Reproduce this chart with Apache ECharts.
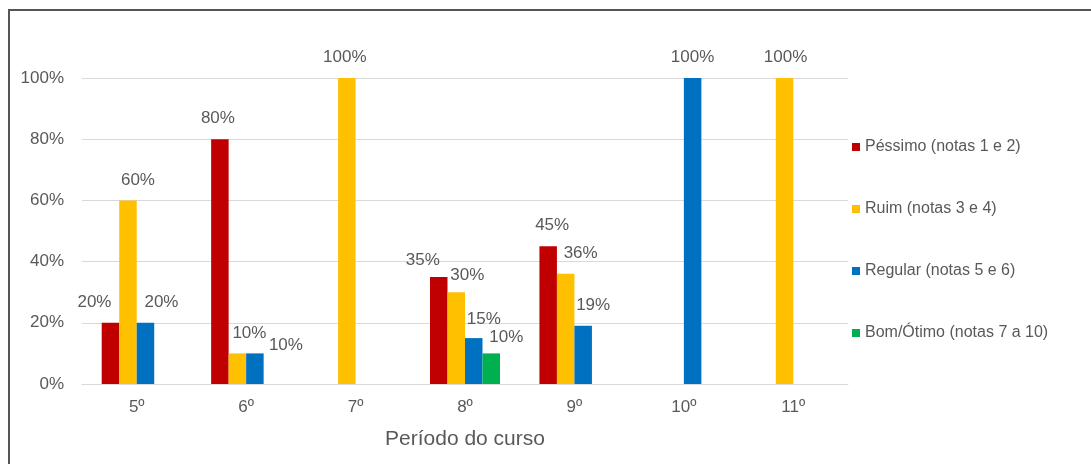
<!DOCTYPE html>
<html>
<head>
<meta charset="utf-8">
<script src="https://cdn.jsdelivr.net/npm/echarts@6/dist/echarts.min.js"></script>
<style>
html,body{margin:0;padding:0;background:#fff;}
#main{width:1091px;height:464px;}
</style>
</head>
<body>
<div id="main"></div>
<script>
// categorias (período do curso)
var periodos = ['5º', '6º', '7º', '8º', '9º', '10º', '11º'];
// percentuais por avaliação
var pessimo = [20, 80, 0, 35, 45, 0, 0];
var ruim = [60, 10, 100, 30, 36, 0, 100];
var regular = [20, 10, 0, 15, 19, 100, 0];
var bomOtimo = [0, 0, 0, 10, 0, 0, 0];
var yTicks = [0, 20, 40, 60, 80, 100];

// deslocamento dos rótulos como no original [dx, dy]
var offPessimo = [[-16, 0], [-2, 0], [0, 0], [-16, 4], [4, 0], [0, 0], [0, 0]];
var offRuim = [[10, 0], [12, 0], [-2, 0], [11, 4], [15, 0], [0, 0], [1, 0]];
var offRegular = [[16, 0], [31, 12], [0, 0], [10, 2], [10, 0], [0, 0], [0, 0]];
var offBom = [[0, 0], [0, 0], [0, 0], [15, 4], [0, 0], [0, 0], [0, 0]];

function montaDados(vals, offs) {
	var arr = [];
	for (var i = 0; i < vals.length; i++) {
		arr.push({ value: vals[i], label: { offset: offs[i] } });
	}
	return arr;
}

var rotulo = {
	show: true,
	position: 'top',
	distance: 12,
	color: '#595959',
	fontSize: 17,
	fontFamily: 'Liberation Sans, Arial, sans-serif',
	formatter: function (p) { return p.value > 0 ? p.value + '%' : ''; }
};

function serie(nome, cor, vals, offs) {
	return {
		name: nome,
		type: 'bar',
		barWidth: 17.5,
		barGap: '0%',
		itemStyle: { color: cor },
		label: rotulo,
		data: montaDados(vals, offs)
	};
}

var myChart = echarts.init(document.getElementById('main'));
var option = {
	backgroundColor: '#fff',
	animation: false,
	textStyle: { fontFamily: 'Liberation Sans, Arial, sans-serif' },
	graphic: [
		{ type: 'line', shape: { x1: 8, y1: 10, x2: 1091, y2: 10 }, style: { stroke: '#555', lineWidth: 2 } },
		{ type: 'line', shape: { x1: 9, y1: 9, x2: 9, y2: 464 }, style: { stroke: '#555', lineWidth: 2 } }
	],
	grid: { left: 82, right: 243, top: 78, bottom: 80 },
	legend: {
		orient: 'vertical',
		left: 847,
		top: 134,
		itemWidth: 8,
		itemHeight: 8,
		itemGap: 46,
		itemStyle: { borderWidth: 0 },
		icon: 'rect',
		textStyle: { color: '#595959', fontSize: 16 },
		data: ['Péssimo (notas 1 e 2)', 'Ruim (notas 3 e 4)', 'Regular (notas 5 e 6)', 'Bom/Ótimo (notas 7 a 10)']
	},
	xAxis: {
		type: 'category',
		data: periodos,
		name: 'Período do curso',
		nameLocation: 'middle',
		nameGap: 45,
		nameTextStyle: { color: '#595959', fontSize: 21 },
		axisLine: { lineStyle: { color: '#d9d9d9' } },
		axisTick: { show: false },
		axisLabel: { color: '#595959', fontSize: 17, margin: 15 }
	},
	yAxis: {
		type: 'value',
		min: 0,
		max: 100,
		interval: 20,
		axisLine: { show: false },
		axisTick: { show: false },
		splitLine: { lineStyle: { color: '#d9d9d9' } },
		axisLabel: {
			color: '#595959', fontSize: 17, margin: 18,
			formatter: function (v) { return yTicks.indexOf(v) >= 0 ? v + '%' : ''; }
		}
	},
	series: [
		serie('Péssimo (notas 1 e 2)', '#C00000', pessimo, offPessimo),
		serie('Ruim (notas 3 e 4)', '#FFC000', ruim, offRuim),
		serie('Regular (notas 5 e 6)', '#0070C0', regular, offRegular),
		serie('Bom/Ótimo (notas 7 a 10)', '#00B050', bomOtimo, offBom)
	]
};
myChart.setOption(option);
</script>
</body>
</html>
